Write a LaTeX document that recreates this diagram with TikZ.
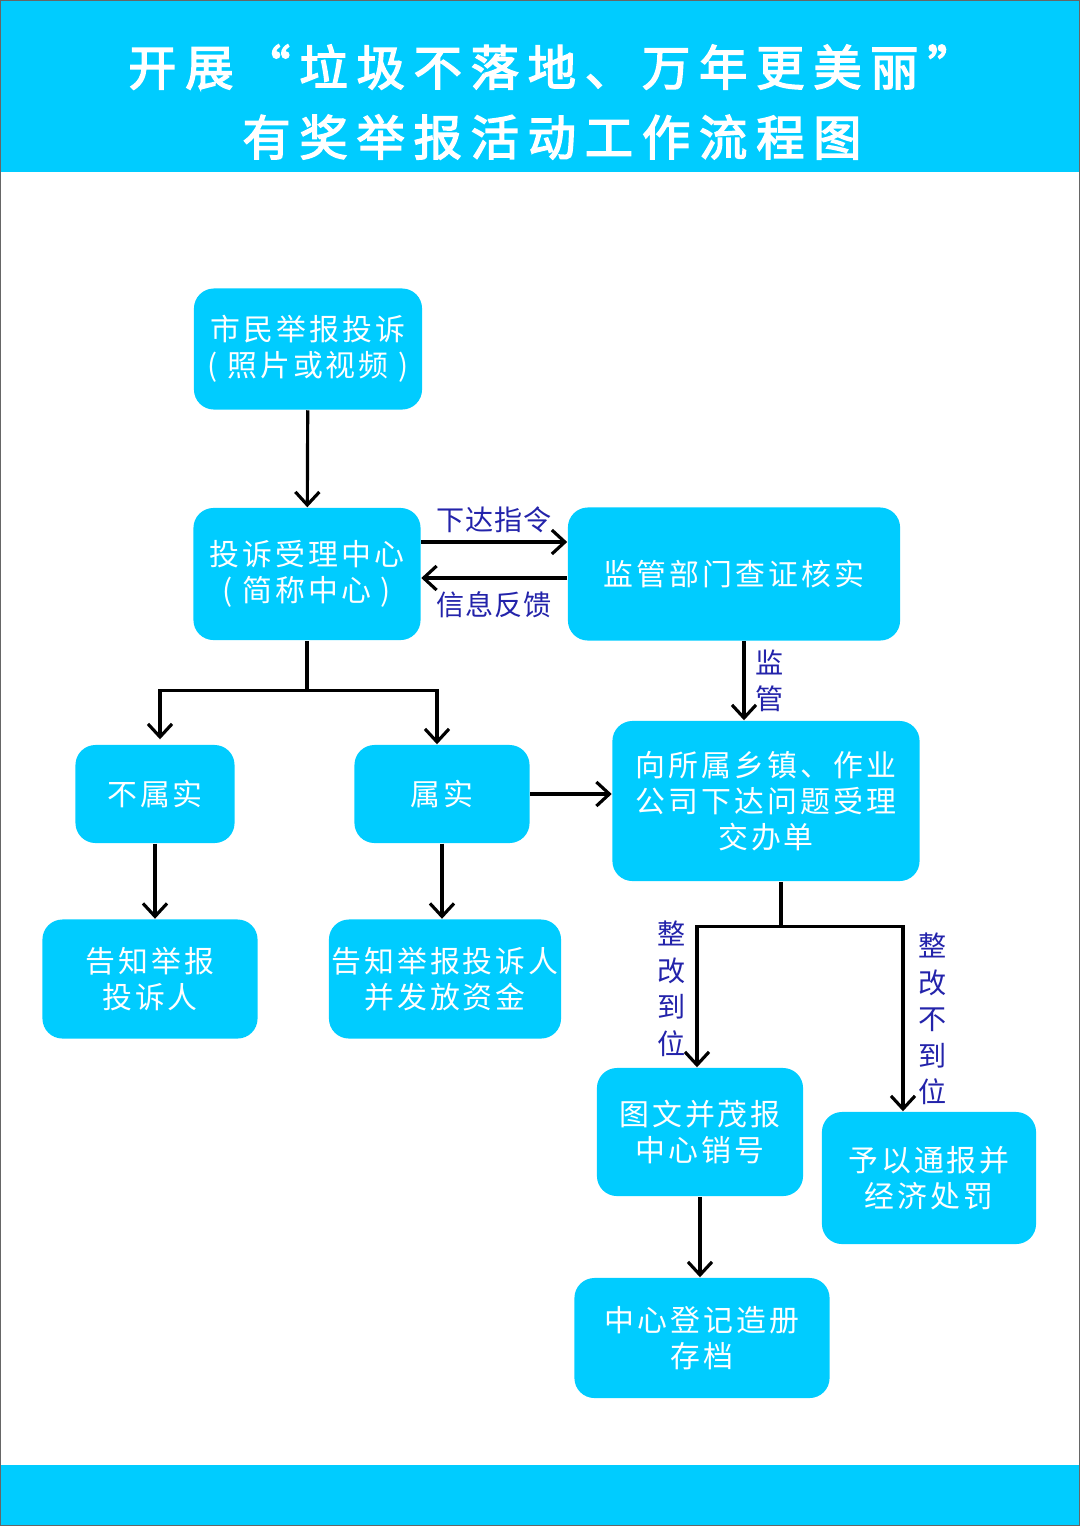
\documentclass[tikz,border=0pt]{standalone}
\usepackage{fontspec}
\usepackage{tikz}
\usetikzlibrary{positioning,arrows.meta}

\newfontfamily\cjk[LetterSpace=10]{Noto Sans CJK SC}
\newfontfamily\cjktitle[LetterSpace=18.5,FakeBold=3]{Noto Sans CJK SC}
\newfontfamily\cjklabel[LetterSpace=3]{Noto Sans CJK SC}
\definecolor{sky}{RGB}{0,204,255}
\definecolor{ink}{RGB}{35,35,170}

\begin{document}
\begin{tikzpicture}[x=0.01cm,y=-0.01cm,
    box/.style={rectangle,rounded corners=0.2cm,fill=sky,text=white,align=center,inner sep=0pt,
        font=\cjk\fontsize{8.5}{10.2}\selectfont},
    arr/.style={line width=0.9pt,-{Straight Barb[length=1.3mm,width=2.4mm]}},
    lbl/.style={text=ink,align=center,inner sep=1pt,font=\cjklabel\fontsize{8}{10.4}\selectfont}]

\useasboundingbox (0,0) rectangle (1080,1526);
\fill[sky] (0,0) rectangle (1080,172);
\fill[sky] (0,1465) rectangle (1080,1526);
\draw[black!60,line width=0.4pt] (0,0) rectangle (1080,1526);

\node[text=white,align=center,font=\cjktitle\fontsize{13.7}{19.9}\selectfont] (title) at (552,102)
    {开展“垃圾不落地、万年更美丽”\\有奖举报活动工作流程图};

\node[box,minimum width=2.28cm,minimum height=1.21cm] (jubao) at (308,349) {市民举报投诉\\( 照片或视频 )};
\node[box,minimum width=2.27cm,minimum height=1.32cm] (zhongxin) at (307,574) {投诉受理中心\\( 简称中心 )};
\node[box,minimum width=3.32cm,minimum height=1.33cm] (jianguan) at (734,574) {监管部门查证核实};
\node[box,minimum width=1.59cm,minimum height=0.98cm] (bushu) at (155,794) {不属实};
\node[box,minimum width=1.75cm,minimum height=0.98cm] (shushi) at (442,794) {属实};
\node[box,minimum width=3.07cm,minimum height=1.60cm] (jiaoban) at (766,801) {向所属乡镇、作业\\公司下达问题受理\\交办单};
\node[box,minimum width=2.15cm,minimum height=1.19cm] (gaozhi) at (150,979) {告知举报\\投诉人};
\node[box,minimum width=2.32cm,minimum height=1.19cm] (fafang) at (445,979) {告知举报投诉人\\并发放资金};
\node[box,minimum width=2.06cm,minimum height=1.28cm] (xiaohao) at (700,1132) {图文并茂报\\中心销号};
\node[box,minimum width=2.14cm,minimum height=1.32cm] (chufa) at (929,1178) {予以通报并\\经济处罚};
\node[box,minimum width=2.55cm,minimum height=1.20cm] (cundang) at (702,1338) {中心登记造册\\存档};

\coordinate (fen1) at ([yshift=-0.5cm]zhongxin.south);
\coordinate (fen2) at ([xshift=0.15cm,yshift=-0.45cm]jiaoban.south);

\draw[arr] (jubao) -- (zhongxin);
\draw[arr] ([yshift=0.32cm]zhongxin.east) -- ([yshift=0.32cm]jianguan.west)
    node[lbl,midway,above=0.04cm] {下达指令};
\draw[arr] ([yshift=-0.04cm]jianguan.west) -- ([yshift=-0.04cm]zhongxin.east)
    node[lbl,midway,below=0.08cm] {信息反馈};
\draw[arr] ([xshift=0.1cm]jianguan.south) -- ([xshift=0.1cm]jianguan.south |- jiaoban.north)
    node[lbl,midway,right=0.06cm] {监\\管};

\draw[line width=0.9pt] (zhongxin.south) -- (fen1);
\draw[arr] (fen1) -| ([xshift=0.05cm,yshift=0.05cm]bushu.north);
\draw[arr] (fen1) -| ([xshift=-0.05cm]shushi.north);
\draw[arr] (shushi.east) -- (shushi.east -| jiaoban.west);
\draw[arr] (bushu.south) -- (bushu.south |- gaozhi.north);
\draw[arr] (shushi.south) -- (shushi.south |- fafang.north);

\draw[line width=0.9pt] ([xshift=0.15cm]jiaoban.south) -- (fen2);
\draw[arr] (fen2) -| ([xshift=-0.03cm]xiaohao.north)
    node[lbl,pos=0.72,left=0.06cm] {整\\改\\到\\位};
\draw[arr] (fen2) -| ([xshift=-0.26cm]chufa.north)
    node[lbl,pos=0.75,right=0.1cm] {整\\改\\不\\到\\位};
\draw[arr] (xiaohao.south) -- (xiaohao.south |- cundang.north);

\end{tikzpicture}
\end{document}
